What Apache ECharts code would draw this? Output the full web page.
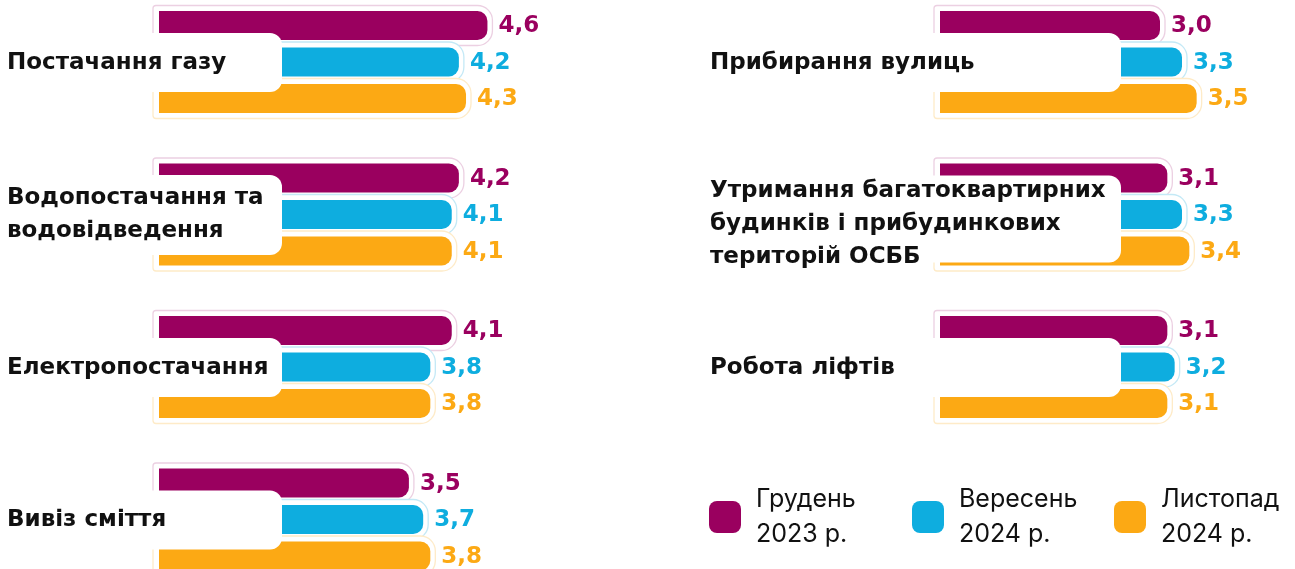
<!DOCTYPE html>
<html>
<head>
<meta charset="utf-8">
<script src="https://cdn.jsdelivr.net/npm/echarts@6/dist/echarts.min.js"></script>
<style>
  html, body { margin: 0; padding: 0; background: #fff; }
  #main { width: 1295px; height: 569px; }
</style>
</head>
<body>
<div id="main"></div>
<script>
// periods (legend)
const periods = ['Грудень\n2023 р.', 'Вересень\n2024 р.', 'Листопад\n2024 р.'];

// left column
const leftCategories = ['Постачання газу', 'Водопостачання та\nводовідведення', 'Електропостачання', 'Вивіз сміття'];
const leftDec2023 = [4.6, 4.2, 4.1, 3.5];
const leftSep2024 = [4.2, 4.1, 3.8, 3.7];
const leftNov2024 = [4.3, 4.1, 3.8, 3.8];

// right column
const rightCategories = ['Прибирання вулиць', 'Утримання багатоквартирних\nбудинків і прибудинкових\nтериторій ОСББ', 'Робота ліфтів'];
const rightDec2023 = [3.0, 3.1, 3.1];
const rightSep2024 = [3.3, 3.3, 3.2];
const rightNov2024 = [3.5, 3.4, 3.1];

const colors = ['#9a005f', '#0eaddf', '#fca914'];
const tints = ['#ecd0e2', '#c4e9f6', '#feebc8'];
const FONT = 'Inter, "Noto Sans", sans-serif';
const BOLD_FONT = '"DejaVu Sans", Inter, sans-serif';

const chart = echarts.init(document.getElementById('main'));

function fmt(v) {
  return v.toFixed(1).replace('.', ',');
}

// one bar of the group: k = 0,1,2 (period index)
function barRenderer(k) {
  return function (params, api) {
    const cat = api.value(0);
    const val = api.value(1);
    const base = api.coord([0, cat]);
    const end = api.coord([val, cat]);
    const h = 29, pitch = 36.5;
    const y = base[1] + (k - 1) * pitch - h / 2;
    const x0 = base[0], x1 = end[0];
    return {
      type: 'group',
      children: [
        {
          type: 'rect',
          shape: { x: x0 - 6, y: y - 5.5, width: x1 - x0 + 11, height: h + 11, r: [3, 15, 15, 3] },
          style: { fill: '#fff', stroke: tints[k], lineWidth: 1.3 }
        },
        {
          type: 'rect',
          shape: { x: x0, y: y, width: x1 - x0, height: h, r: [0, 10, 10, 0] },
          style: { fill: colors[k] }
        },
        {
          type: 'text',
          x: x1 + 11,
          y: y + h / 2 + 1,
          style: { text: fmt(val), fill: colors[k], font: 'bold 23px ' + BOLD_FONT, verticalAlign: 'middle' }
        }
      ]
    };
  };
}

// white rounded box with category name on top of the bars
function labelRenderer(boxLeft, boxRight, textX, names) {
  const heights = [0, 59, 80, 87];
  const boxShift = [0, 0, 0, 4];
  const textShift = [0, 1, 0, 10];
  return function (params, api) {
    const idx = api.value(0);
    const cy = api.coord([0, idx])[1];
    const name = names[idx];
    const lines = name.split('\n').length;
    const bh = heights[lines];
    return {
      type: 'group',
      children: [
        {
          type: 'rect',
          shape: { x: boxLeft, y: cy - bh / 2 + 0.5 + boxShift[lines], width: boxRight - boxLeft, height: bh, r: 12 },
          style: { fill: '#fff' }
        },
        {
          type: 'text',
          x: textX,
          y: cy + textShift[lines],
          style: {
            text: name, fill: '#111', font: 'bold 23px ' + BOLD_FONT,
            lineHeight: 33, verticalAlign: 'middle', align: 'left'
          }
        }
      ]
    };
  };
}

function barSeries(name, k, values, axisIndex) {
  return {
    name: name,
    type: 'custom',
    xAxisIndex: axisIndex,
    yAxisIndex: axisIndex,
    itemStyle: { color: colors[k] },
    renderItem: barRenderer(k),
    encode: { x: 1, y: 0 },
    data: values.map((v, i) => [i, v]),
    z: 2,
    silent: true
  };
}

function labelSeries(names, axisIndex, boxLeft, boxRight, textX) {
  return {
    type: 'custom',
    xAxisIndex: axisIndex,
    yAxisIndex: axisIndex,
    renderItem: labelRenderer(boxLeft, boxRight, textX, names),
    encode: { x: 1, y: 0 },
    data: names.map((n, i) => [i, 0]),
    z: 5,
    silent: true
  };
}

const legendLeft = [709, 912, 1114];

const option = {
  animation: false,
  backgroundColor: '#fff',
  grid: [
    { left: 159, top: 62, width: 357, height: 457.5 },
    { left: 940, top: 62, width: 330, height: 305 }
  ],
  xAxis: [
    { type: 'value', gridIndex: 0, min: 0, max: 5, show: false },
    { type: 'value', gridIndex: 1, min: 0, max: 4.5, show: false }
  ],
  yAxis: [
    { type: 'category', gridIndex: 0, data: leftCategories, inverse: true, boundaryGap: false, show: false },
    { type: 'category', gridIndex: 1, data: rightCategories, inverse: true, boundaryGap: false, show: false }
  ],
  legend: periods.map((p, i) => ({
    data: [p],
    left: legendLeft[i],
    top: 482,
    padding: 0,
    icon: 'roundRect',
    itemWidth: 32,
    itemHeight: 32,
    selectedMode: false,
    textStyle: { fontFamily: FONT, fontSize: 25, lineHeight: 35, color: '#111', padding: [0, 0, 0, 10] }
  })),
  series: [
    barSeries(periods[0], 0, leftDec2023, 0),
    barSeries(periods[1], 1, leftSep2024, 0),
    barSeries(periods[2], 2, leftNov2024, 0),
    barSeries(periods[0], 0, rightDec2023, 1),
    barSeries(periods[1], 1, rightSep2024, 1),
    barSeries(periods[2], 2, rightNov2024, 1),
    labelSeries(leftCategories, 0, -20, 282, 7),
    labelSeries(rightCategories, 1, 690, 1121, 710)
  ]
};

chart.setOption(option);
</script>
</body>
</html>
